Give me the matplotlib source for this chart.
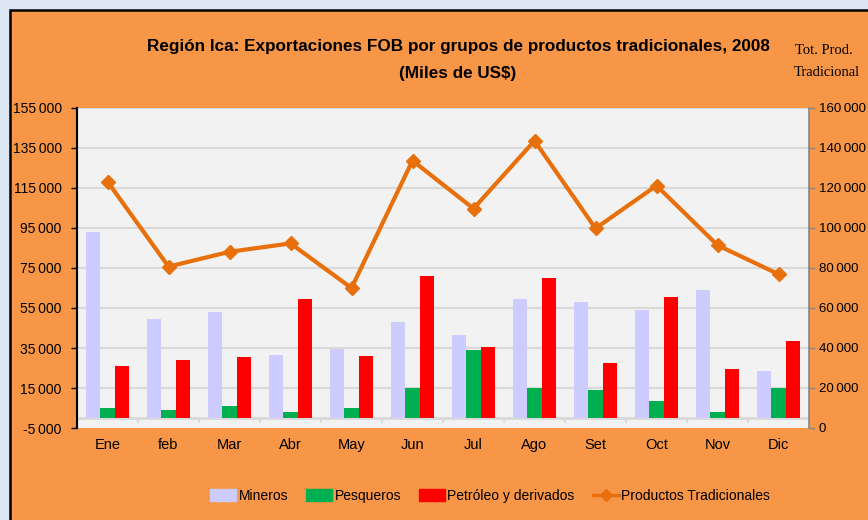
import matplotlib
matplotlib.use("Agg")
import matplotlib.pyplot as plt
from matplotlib.patches import Rectangle
from matplotlib.lines import Line2D
import numpy as np

meses = ["Ene", "feb", "Mar", "Abr", "May", "Jun", "Jul", "Ago", "Set", "Oct", "Nov", "Dic"]
mineros = [92800, 49300, 53000, 31300, 34600, 47800, 41300, 59700, 58200, 53800, 64200, 23700]
pesqueros = [5200, 3900, 6000, 3200, 5200, 14900, 33900, 14900, 14200, 8400, 3200, 15000]
petroleo = [25900, 28800, 30300, 59700, 31100, 71200, 35500, 69900, 27600, 60500, 24400, 38300]
tot_trad = [123200, 80700, 88100, 92300, 70000, 133700, 109700, 143600, 99800, 121200, 91400, 76900]

left_ticks = list(range(-5000, 155001, 20000))
right_ticks = list(range(0, 160001, 20000))

ORANGE_BG = "#F79646"
PLOT_BG = "#F2F2F2"
C_MIN = "#CCCCFF"
C_PES = "#00B050"
C_PET = "#FF0000"
C_LINE = "#E8700C"
FONT = ["Liberation Sans", "DejaVu Sans"]
SERIF = ["Liberation Serif", "DejaVu Serif"]

def fmt(v):
    s = f"{abs(v):,}".replace(",", "\u2009")
    return ("-" if v < 0 else "") + s

fig = plt.figure(figsize=(8.68, 5.2), dpi=100)
fig.patch.set_facecolor("#DCE6F2")
fig.patches.append(Rectangle((10 / 868, -0.01), 1 - 10 / 868 + 0.01, 1 - 10 / 520 + 0.01, transform=fig.transFigure,
                             facecolor=ORANGE_BG, edgecolor="black", linewidth=1.8, zorder=0))

ax = fig.add_axes([77 / 868, 1 - 428 / 520, (809 - 77) / 868, (428 - 108) / 520])
ax.set_facecolor(PLOT_BG)
ax.set_zorder(2)
ax2 = ax.twinx()
ax2.set_zorder(3)
ax2.patch.set_visible(False)

x = np.arange(len(meses))
w = 0.235
ax.bar(x - w, mineros, w, color=C_MIN, zorder=3, label="Mineros")
ax.bar(x, pesqueros, w, color=C_PES, zorder=3, label="Pesqueros")
ax.bar(x + w, petroleo, w, color=C_PET, zorder=3, label="Petróleo y derivados")

ax.set_xlim(-0.5, len(meses) - 0.5)
ax.set_ylim(-5000, 155000)
ax.set_yticks(left_ticks)
ax.set_yticklabels([fmt(v) for v in left_ticks], fontfamily=FONT, fontsize=10)
for v in left_ticks[1:]:
    ax.axhline(v, color="#D9D9D9", lw=1.5, zorder=1)
ax.axhline(0, color="#D9D9D9", lw=2, zorder=2)
ax.vlines(np.arange(-0.5, len(meses), 1.0), -2700, 0, color="#D9D9D9", lw=1.2, zorder=2)

ax.set_xticks(x)
ax.set_xticklabels(meses, fontfamily=FONT, fontsize=10.5)
ax.tick_params(axis="x", length=0, pad=7)
ax.tick_params(axis="y", length=4, width=1, color="black", pad=7)
for s in ["top", "bottom", "right"]:
    ax.spines[s].set_visible(False)
ax.spines["left"].set_color("black")
ax.spines["left"].set_linewidth(1.5)

ax2.plot(x, tot_trad, color=C_LINE, lw=3, marker="D", markersize=7.5, zorder=4, label="Productos Tradicionales")
ax2.set_ylim(0, 160000)
ax2.set_yticks(right_ticks)
ax2.set_yticklabels([fmt(v) for v in right_ticks], fontfamily=FONT, fontsize=9.5)
ax2.tick_params(axis="y", length=4, width=1, color="#868686", pad=3)
for s in ["top", "bottom", "left"]:
    ax2.spines[s].set_visible(False)
ax2.spines["right"].set_color("#868686")
ax2.spines["right"].set_linewidth(1.2)

fig.text(458 / 868, 1 - 47 / 520, "Región Ica: Exportaciones FOB por grupos de productos tradicionales, 2008",
         ha="center", va="center", fontsize=12.3, fontweight="bold", fontfamily=FONT)
fig.text(458 / 868, 1 - 74 / 520, "(Miles de US$)", ha="center", va="center",
         fontsize=12.3, fontweight="bold", fontfamily=FONT)
fig.text(824 / 868, 1 - 50 / 520, "Tot. Prod.", ha="center", va="center", fontsize=10.5, fontfamily=SERIF)
fig.text(827 / 868, 1 - 72 / 520, "Tradicional", ha="center", va="center", fontsize=10.5, fontfamily=SERIF)

handles = [Rectangle((0, 0), 1, 1, color=C_MIN), Rectangle((0, 0), 1, 1, color=C_PES),
           Rectangle((0, 0), 1, 1, color=C_PET),
           Line2D([], [], color=C_LINE, lw=2.5, marker="D", markersize=6)]
labels = ["Mineros", "Pesqueros", "Petróleo y derivados", "Productos Tradicionales"]
leg = fig.legend(handles, labels, loc="center", bbox_to_anchor=(490 / 868, 1 - 496 / 520), ncol=4,
                 frameon=False, prop={"family": FONT, "size": 10}, handlelength=1.9,
                 handleheight=0.9, handletextpad=0.15, columnspacing=1.3)

fig.savefig("out.png", dpi=100, facecolor=fig.get_facecolor())
